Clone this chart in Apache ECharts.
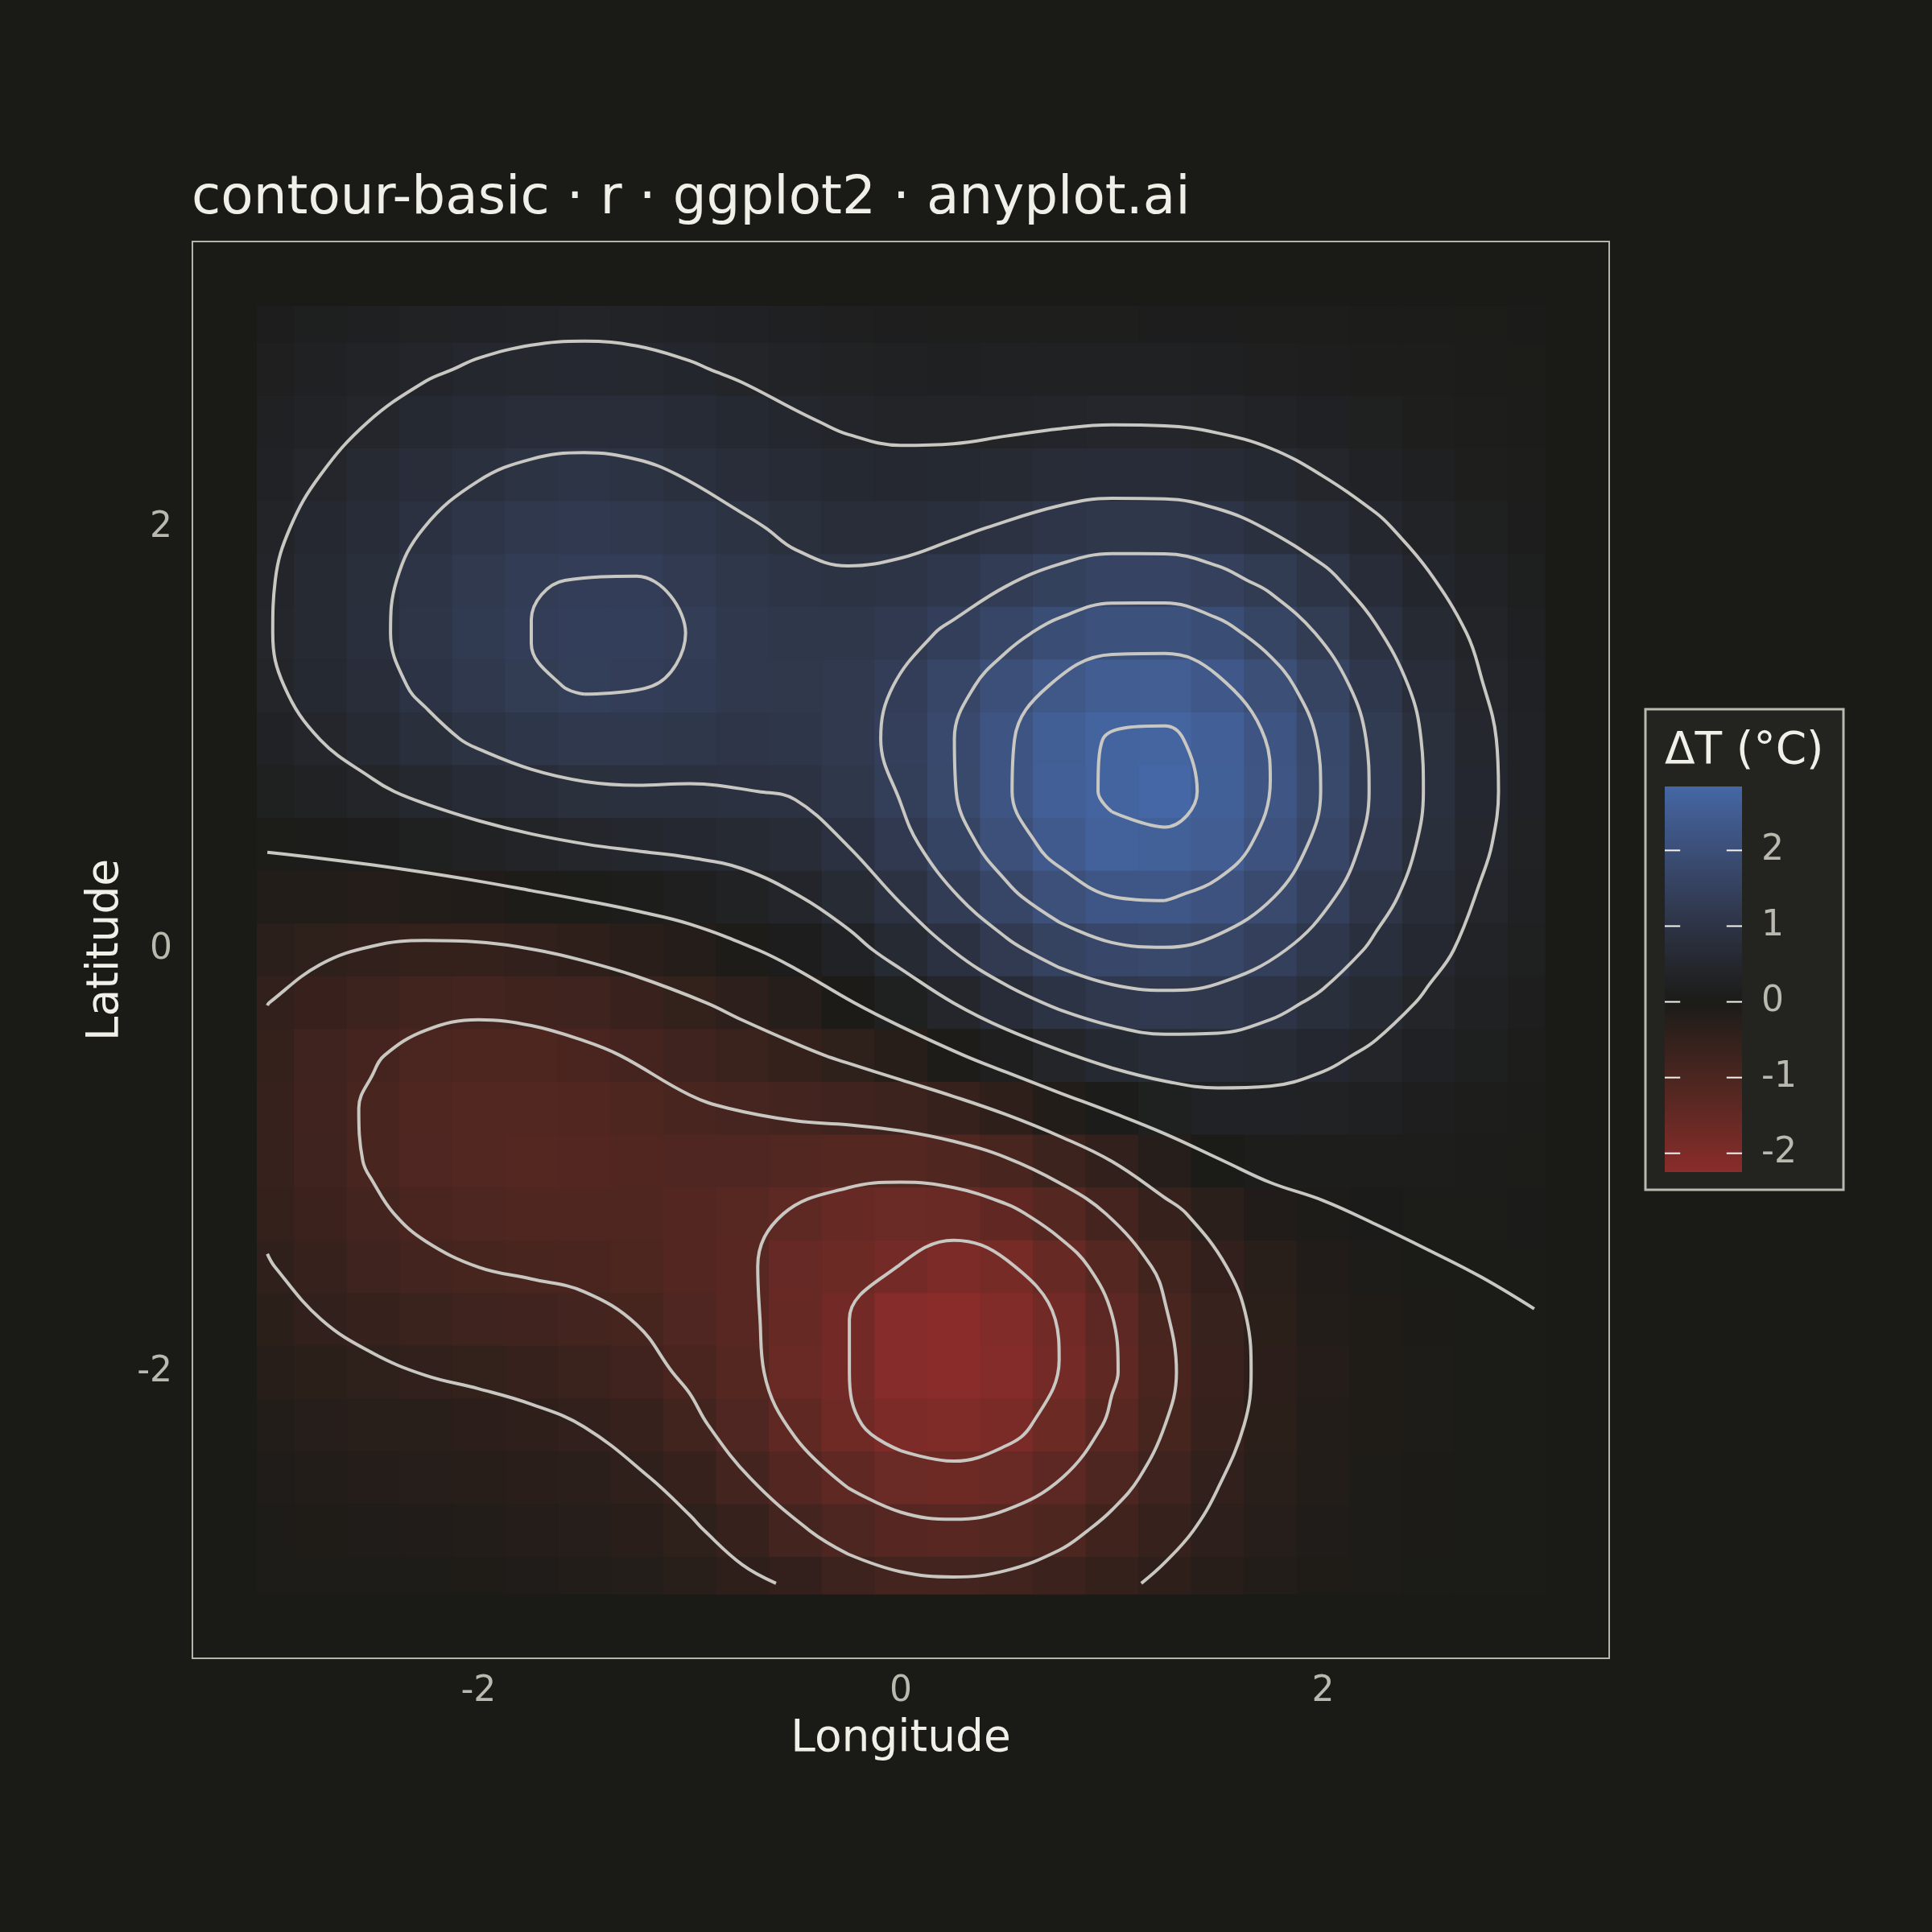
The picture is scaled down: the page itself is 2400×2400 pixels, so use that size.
<!DOCTYPE html>
<html>
<head>
<meta charset="utf-8">
<script src="https://cdn.jsdelivr.net/npm/echarts@6/dist/echarts.min.js"></script>
<style>
html,body{margin:0;padding:0;background:#1a1a17;}
#chart{width:2400px;height:2400px;}
</style>
</head>
<body>
<div id="chart"></div>
<script>
// ---------- data ----------
const longitudes = [-3,-2.75,-2.5,-2.25,-2,-1.75,-1.5,-1.25,-1,-0.75,-0.5,-0.25,0,0.25,0.5,0.75,1,1.25,1.5,1.75,2,2.25,2.5,2.75,3];
const latitudes  = [3,2.75,2.5,2.25,2,1.75,1.5,1.25,1,0.75,0.5,0.25,0,-0.25,-0.5,-0.75,-1,-1.25,-1.5,-1.75,-2,-2.25,-2.5,-2.75,-3];
// rows follow `latitudes` (top to bottom), columns follow `longitudes`
const temperatureAnomaly = [
[0.116,0.166,0.221,0.276,0.323,0.354,0.365,0.351,0.316,0.268,0.217,0.173,0.142,0.125,0.120,0.121,0.122,0.119,0.108,0.092,0.072,0.052,0.035,0.021,0.012],
[0.174,0.248,0.331,0.413,0.484,0.531,0.547,0.528,0.476,0.407,0.335,0.275,0.236,0.221,0.223,0.233,0.240,0.235,0.215,0.183,0.144,0.104,0.069,0.042,0.024],
[0.243,0.346,0.461,0.577,0.675,0.742,0.765,0.739,0.670,0.577,0.484,0.411,0.371,0.366,0.387,0.415,0.434,0.429,0.394,0.336,0.264,0.191,0.127,0.078,0.044],
[0.316,0.449,0.600,0.750,0.879,0.967,0.998,0.966,0.880,0.766,0.656,0.578,0.550,0.571,0.625,0.687,0.725,0.720,0.664,0.566,0.445,0.322,0.214,0.131,0.074],
[0.380,0.542,0.724,0.906,1.063,1.171,1.211,1.176,1.078,0.950,0.834,0.765,0.765,0.832,0.940,1.050,1.118,1.115,1.031,0.879,0.691,0.500,0.333,0.204,0.115],
[0.423,0.604,0.808,1.013,1.192,1.315,1.370,1.365,1.250,1.100,0.993,0.951,0.999,1.130,1.309,1.482,1.589,1.589,1.471,1.256,0.987,0.714,0.475,0.291,0.164],
[0.431,0.617,0.829,1.042,1.230,1.362,1.425,1.410,1.345,1.184,1.104,1.106,1.216,1.425,1.686,1.929,2.079,2.084,1.931,1.650,1.297,0.938,0.624,0.382,0.215],
[0.395,0.568,0.768,0.972,1.154,1.300,1.385,1.375,1.290,1.178,1.140,1.197,1.376,1.664,2.004,2.312,2.503,2.514,2.331,1.992,1.566,1.134,0.754,0.462,0.260],
[0.311,0.453,0.621,0.796,0.958,1.083,1.160,1.160,1.114,1.072,1.084,1.200,1.442,1.794,2.194,2.552,2.730,2.760,2.589,2.213,1.740,1.260,0.839,0.513,0.289],
[0.184,0.279,0.397,0.528,0.657,0.767,0.838,0.865,0.863,0.885,0.935,1.102,1.389,1.779,2.209,2.588,2.740,2.844,2.610,2.260,1.778,1.287,0.857,0.524,0.295],
[0.026,0.062,0.118,0.194,0.282,0.372,0.447,0.500,0.540,0.597,0.708,0.909,1.216,1.611,2.036,2.407,2.636,2.630,2.478,2.122,1.670,1.209,0.805,0.493,0.277],
[-0.145,-0.173,-0.183,-0.167,-0.122,-0.052,0.025,0.102,0.181,0.280,0.424,0.641,0.941,1.309,1.698,2.036,2.248,2.283,2.130,1.827,1.440,1.044,0.695,0.426,0.240],
[-0.309,-0.398,-0.471,-0.511,-0.507,-0.457,-0.379,-0.283,-0.174,-0.047,0.113,0.323,0.593,0.912,1.246,1.538,1.728,1.775,1.669,1.439,1.137,0.826,0.551,0.338,0.190],
[-0.445,-0.585,-0.710,-0.797,-0.828,-0.796,-0.721,-0.615,-0.492,-0.357,-0.206,-0.025,0.195,0.453,0.727,0.976,1.152,1.221,1.172,1.024,0.817,0.597,0.400,0.246,0.139],
[-0.538,-0.712,-0.874,-0.994,-1.051,-1.036,-0.969,-0.868,-0.754,-0.638,-0.522,-0.394,-0.237,-0.044,0.178,0.398,0.578,0.684,0.702,0.639,0.524,0.389,0.264,0.163,0.093],
[-0.579,-0.769,-0.948,-1.087,-1.159,-1.160,-1.110,-1.031,-0.949,-0.882,-0.830,-0.778,-0.698,-0.567,-0.383,-0.168,0.039,0.201,0.293,0.314,0.281,0.221,0.155,0.098,0.056],
[-0.567,-0.756,-0.934,-1.076,-1.156,-1.172,-1.145,-1.104,-1.078,-1.085,-1.124,-1.167,-1.171,-1.099,-0.936,-0.704,-0.447,-0.215,-0.012,0.090,0.098,0.096,0.075,0.051,0.030],
[-0.513,-0.684,-0.847,-0.979,-1.060,-1.089,-1.092,-1.099,-1.143,-1.240,-1.382,-1.529,-1.619,-1.598,-1.446,-1.182,-0.864,-0.554,-0.303,-0.131,-0.033,0.011,0.022,0.020,0.014],
[-0.430,-0.574,-0.712,-0.827,-0.902,-0.942,-0.974,-1.031,-1.145,-1.260,-1.571,-1.660,-1.810,-2.002,-1.853,-1.558,-1.182,-0.806,-0.489,-0.261,-0.120,-0.044,-0.010,0.002,0.004],
[-0.335,-0.448,-0.557,-0.649,-0.715,-0.762,-0.818,-0.915,-1.083,-1.250,-1.550,-1.790,-2.180,-2.234,-2.090,-1.777,-1.367,-0.950,-0.594,-0.334,-0.167,-0.073,-0.027,-0.008,-0.001],
[-0.243,-0.325,-0.390,-0.460,-0.500,-0.550,-0.648,-0.767,-0.965,-1.180,-1.595,-1.790,-2.176,-2.248,-2.115,-1.807,-1.399,-0.980,-0.620,-0.353,-0.181,-0.083,-0.034,-0.012,-0.004],
[-0.165,-0.221,-0.260,-0.300,-0.340,-0.385,-0.455,-0.560,-0.803,-1.081,-1.413,-1.737,-1.971,-2.046,-1.931,-1.655,-1.284,-0.902,-0.573,-0.329,-0.171,-0.080,-0.033,-0.013,-0.004],
[-0.104,-0.140,-0.175,-0.209,-0.240,-0.277,-0.310,-0.410,-0.570,-0.860,-1.144,-1.420,-1.620,-1.687,-1.596,-1.368,-1.063,-0.748,-0.476,-0.274,-0.143,-0.067,-0.028,-0.011,-0.004],
[-0.061,-0.083,-0.104,-0.124,-0.146,-0.174,-0.223,-0.280,-0.400,-0.580,-0.843,-1.053,-1.206,-1.259,-1.192,-1.023,-0.796,-0.560,-0.357,-0.206,-0.107,-0.051,-0.022,-0.008,-0.003],
[-0.034,-0.045,-0.058,-0.070,-0.083,-0.102,-0.136,-0.196,-0.288,-0.380,-0.490,-0.709,-0.814,-0.851,-0.806,-0.693,-0.539,-0.379,-0.242,-0.139,-0.073,-0.034,-0.015,-0.006,-0.002]
];
const contourLevels = [-1.8, -1.35, -0.9, -0.45, 0, 0.45, 0.9, 1.35, 1.8, 2.25, 2.7];
const axisTickValues = [-2, 0, 2];
const legendTickValues = [-2, -1, 0, 1, 2];
const titleText = 'contour-basic \u00b7 r \u00b7 ggplot2 \u00b7 anyplot.ai';
const xAxisTitle = 'Longitude';
const yAxisTitle = 'Latitude';
const legendTitle = '\u0394T (\u00b0C)';

// ---------- styles ----------
const FONT = '"DejaVu Sans", "Noto Sans", sans-serif';
const BG = '#1a1a17';
const LOW_COLOR = '#8a2c2a', MID_COLOR = '#1b1b18', HIGH_COLOR = '#4567a5';
const LINE_COLOR = '#c9c7c1';
const TEXT_COLOR = '#f0efe8', TICK_COLOR = '#b9b9b0';

// ---------- derived ----------
const flat = temperatureAnomaly.flat();
const zMin = Math.min(...flat), zMax = Math.max(...flat);
const step = Math.abs(longitudes[1] - longitudes[0]);
const tileHalf = step / 2;
const edgeMargin = 0.05;
const lonLo = Math.min(...longitudes) - edgeMargin, lonHi = Math.max(...longitudes) + edgeMargin;
const latLo = Math.min(...latitudes) - edgeMargin, latHi = Math.max(...latitudes) + edgeMargin;
const padX = (lonHi - lonLo) * 0.05, padY = (latHi - latLo) * 0.05;

const heatData = [];
latitudes.forEach((lat, r) => longitudes.forEach((lon, c) => heatData.push([lon, lat, temperatureAnomaly[r][c]])));

// ----- Lab colour interpolation (like ggplot2 gradient2) -----
function hexToRgb(h){ const n = parseInt(h.slice(1),16); return [(n>>16)&255,(n>>8)&255,n&255]; }
function toLin(c){ c/=255; return c<=0.04045 ? c/12.92 : Math.pow((c+0.055)/1.055,2.4); }
function fromLin(c){ const v = c<=0.0031308 ? 12.92*c : 1.055*Math.pow(c,1/2.4)-0.055; return Math.round(Math.min(1,Math.max(0,v))*255); }
function rgbToLab(rgb){
  const [r,g,b] = rgb.map(toLin);
  const X=(0.4124*r+0.3576*g+0.1805*b)/0.95047, Y=(0.2126*r+0.7152*g+0.0722*b), Z=(0.0193*r+0.1192*g+0.9505*b)/1.08883;
  const f=t=>t>0.008856?Math.cbrt(t):7.787*t+16/116;
  const fx=f(X), fy=f(Y), fz=f(Z);
  return [116*fy-16, 500*(fx-fy), 200*(fy-fz)];
}
function labToHex(lab){
  const fy=(lab[0]+16)/116, fx=fy+lab[1]/500, fz=fy-lab[2]/200;
  const inv=t=>{const t3=t*t*t; return t3>0.008856?t3:(t-16/116)/7.787;};
  const X=inv(fx)*0.95047, Y=inv(fy), Z=inv(fz)*1.08883;
  const r=3.2406*X-1.5372*Y-0.4986*Z, g=-0.9689*X+1.8758*Y+0.0415*Z, b=0.0557*X-0.2040*Y+1.0570*Z;
  return '#'+[r,g,b].map(c=>fromLin(c).toString(16).padStart(2,'0')).join('');
}
const lowLab = rgbToLab(hexToRgb(LOW_COLOR)), midLab = rgbToLab(hexToRgb(MID_COLOR)), highLab = rgbToLab(hexToRgb(HIGH_COLOR));
const mix = (a,b,t) => a.map((v,k)=>v+(b[k]-v)*t);
function colorAt(v){
  if (v < 0) return labToHex(mix(midLab, lowLab, Math.min(1, v / zMin)));
  return labToHex(mix(midLab, highLab, Math.min(1, v / zMax)));
}
const N_COL = 100;
const palette = [];
for (let k = 0; k <= N_COL; k++) palette.push(colorAt(zMin + (zMax - zMin) * k / N_COL));
const gradientStops = palette.map((c, k) => ({ offset: 1 - k / N_COL, color: c })).reverse();

// ----- marching squares on the grid -----
const latAsc = latitudes.slice().reverse();
const zAsc = temperatureAnomaly.slice().reverse();
function buildContours(level){
  const pts = {}, adj = {};
  const ep = (key, xa, ya, va, xb, yb, vb) => {
    if (!(key in pts)) { const t = (level - va) / (vb - va); pts[key] = [xa + t*(xb-xa), ya + t*(yb-ya)]; }
    return key;
  };
  const link = (a, b) => { (adj[a] = adj[a] || []).push(b); (adj[b] = adj[b] || []).push(a); };
  const nx = longitudes.length, ny = latAsc.length;
  for (let j = 0; j < ny - 1; j++) for (let i = 0; i < nx - 1; i++) {
    const x0 = longitudes[i], x1 = longitudes[i+1], y0 = latAsc[j], y1 = latAsc[j+1];
    const v00 = zAsc[j][i], v10 = zAsc[j][i+1], v01 = zAsc[j+1][i], v11 = zAsc[j+1][i+1];
    const c = (v00>=level?1:0)|(v10>=level?2:0)|(v11>=level?4:0)|(v01>=level?8:0);
    if (c === 0 || c === 15) continue;
    const B = () => ep('h'+i+'_'+j, x0,y0,v00, x1,y0,v10);
    const R = () => ep('v'+(i+1)+'_'+j, x1,y0,v10, x1,y1,v11);
    const T = () => ep('h'+i+'_'+(j+1), x0,y1,v01, x1,y1,v11);
    const L = () => ep('v'+i+'_'+j, x0,y0,v00, x0,y1,v01);
    const center = (v00+v10+v01+v11)/4 >= level;
    switch (c) {
      case 1: case 14: link(B(), L()); break;
      case 2: case 13: link(B(), R()); break;
      case 3: case 12: link(L(), R()); break;
      case 4: case 11: link(R(), T()); break;
      case 6: case 9: link(B(), T()); break;
      case 7: case 8: link(L(), T()); break;
      case 5: if (center) { link(B(), R()); link(L(), T()); } else { link(B(), L()); link(R(), T()); } break;
      case 10: if (center) { link(B(), L()); link(R(), T()); } else { link(B(), R()); link(L(), T()); } break;
    }
  }
  const used = new Set(), lines = [];
  const keys = Object.keys(adj);
  const order = keys.filter(k => adj[k].length === 1).concat(keys.filter(k => adj[k].length !== 1));
  for (const s of order) {
    if (used.has(s)) continue;
    const path = [s]; used.add(s);
    let cur = s, prev = null;
    while (true) {
      const nxt = adj[cur].find(n => n !== prev && !used.has(n));
      if (nxt === undefined) { if (path.length > 2 && adj[cur].includes(s)) path.push(s); break; }
      path.push(nxt); used.add(nxt); prev = cur; cur = nxt;
    }
    lines.push(path.map(k => pts[k]));
  }
  return lines;
}
// drop contour vertices that sit almost on top of the previous one (avoids kinks when smoothing)
function thin(path){
  if (path.length < 3) return path;
  const out = [path[0]];
  for (let k = 1; k < path.length - 1; k++) {
    const p = path[k], q = out[out.length - 1];
    if (Math.hypot(p[0] - q[0], p[1] - q[1]) >= step * 0.4) out.push(p);
  }
  out.push(path[path.length - 1]);
  return out;
}

const contourSeries = [];
contourLevels.forEach(level => {
  buildContours(level).forEach(path => {
    contourSeries.push({
      type: 'line', xAxisIndex: 0, yAxisIndex: 0, data: thin(path),
      showSymbol: false, symbol: 'none', smooth: 0.4, silent: true, z: 3,
      lineStyle: { color: LINE_COLOR, width: 4 }, emphasis: { disabled: true }
    });
  });
});

const chart = echarts.init(document.getElementById('chart'), null, { renderer: 'canvas' });
chart.setOption({
  animation: false,
  backgroundColor: BG,
  title: {
    text: titleText, left: 233, top: 210,
    textStyle: { color: TEXT_COLOR, fontSize: 66, fontWeight: 'normal', fontFamily: FONT }
  },
  grid: [
    { left: 239, top: 300, width: 1760, height: 1760, show: true, borderColor: '#b4b4ab', borderWidth: 2, backgroundColor: 'transparent' },
    { left: 2068, top: 977, width: 96, height: 479, show: false }
  ],
  xAxis: [
    {
      type: 'value', gridIndex: 0, min: lonLo - padX, max: lonHi + padX,
      name: xAxisTitle, nameLocation: 'middle', nameGap: 73,
      nameTextStyle: { color: TEXT_COLOR, fontSize: 55, fontFamily: FONT },
      axisLine: { show: false }, axisTick: { show: false }, splitLine: { show: false },
      axisLabel: { customValues: axisTickValues, color: TICK_COLOR, fontSize: 44, fontFamily: FONT, margin: 20 }
    },
    { type: 'value', gridIndex: 1, min: 0, max: 1, show: false }
  ],
  yAxis: [
    {
      type: 'value', gridIndex: 0, min: latLo - padY, max: latHi + padY,
      name: yAxisTitle, nameLocation: 'middle', nameGap: 70, nameRotate: 90,
      nameTextStyle: { color: TEXT_COLOR, fontSize: 55, fontFamily: FONT },
      axisLine: { show: false }, axisTick: { show: false }, splitLine: { show: false },
      axisLabel: { customValues: axisTickValues, color: TICK_COLOR, fontSize: 44, fontFamily: FONT, margin: 25 }
    },
    {
      type: 'value', gridIndex: 1, min: zMin, max: zMax, position: 'right',
      axisLine: { show: false }, splitLine: { show: false }, axisTick: { show: false },
      axisLabel: { customValues: legendTickValues, color: TICK_COLOR, fontSize: 44, fontFamily: FONT, margin: 24 }
    }
  ],
  visualMap: {
    type: 'continuous', show: false, min: zMin, max: zMax, dimension: 2, seriesIndex: 0,
    inRange: { color: palette }
  },
  graphic: [
    { type: 'rect', z: 0, shape: { x: 2044, y: 881, width: 246, height: 597 }, style: { fill: '#232320', stroke: '#b9b9af', lineWidth: 3 } },
    { type: 'text', z: 1, style: { text: legendTitle, x: 2068, y: 934, fill: TEXT_COLOR, fontSize: 55, fontFamily: FONT, verticalAlign: 'middle' } }
  ],
  series: [
    {
      type: 'custom', xAxisIndex: 0, yAxisIndex: 0, data: heatData, encode: { x: 0, y: 1 }, z: 1, silent: true,
      renderItem: (params, api) => {
        const x = api.value(0), y = api.value(1);
        const p0 = api.coord([Math.max(x - tileHalf, lonLo), Math.min(y + tileHalf, latHi)]);
        const p1 = api.coord([Math.min(x + tileHalf, lonHi), Math.max(y - tileHalf, latLo)]);
        return { type: 'rect', shape: { x: p0[0], y: p0[1], width: p1[0] - p0[0] + 0.8, height: p1[1] - p0[1] + 0.8 }, style: { fill: api.visual('color') } };
      }
    },
    {
      type: 'custom', xAxisIndex: 1, yAxisIndex: 1, data: [[0, zMin]], encode: { x: 0, y: 1 }, z: 4, silent: true,
      renderItem: (params, api) => {
        const top = api.coord([0, zMax]), bot = api.coord([1, zMin]);
        const children = [{ type: 'rect', shape: { x: top[0], y: top[1], width: bot[0] - top[0], height: bot[1] - top[1] },
          style: { fill: new echarts.graphic.LinearGradient(0, 0, 0, 1, gradientStops) } }];
        const tickLen = (bot[0] - top[0]) * 0.2;
        legendTickValues.forEach(v => {
          const p = api.coord([0, v]);
          children.push({ type: 'line', shape: { x1: top[0], y1: p[1], x2: top[0] + tickLen, y2: p[1] }, style: { stroke: '#f4f4f0', lineWidth: 2 } });
          children.push({ type: 'line', shape: { x1: bot[0] - tickLen, y1: p[1], x2: bot[0], y2: p[1] }, style: { stroke: '#f4f4f0', lineWidth: 2 } });
        });
        return { type: 'group', children };
      }
    }
  ].concat(contourSeries)
});
</script>
</body>
</html>
